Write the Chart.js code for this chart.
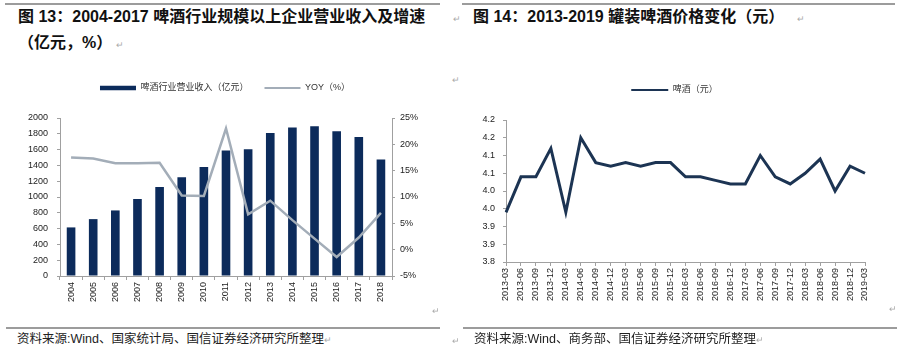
<!DOCTYPE html>
<html>
<head>
<meta charset="utf-8">
<script src="https://cdn.jsdelivr.net/npm/chart.js@4.4.1/dist/chart.umd.min.js"></script>
<style>
  body { margin: 0; width: 899px; height: 352px; background: #fff; position: relative; overflow: hidden;
         font-family: "Liberation Sans", "Noto Sans CJK SC", sans-serif; color: #111; }
  .rule { position: absolute; height: 2px; background: #9c9c9c; }
  .title { position: absolute; font-weight: bold; font-size: 16px; line-height: 18px; white-space: nowrap; color: #111; }
  .src { position: absolute; font-size: 12.5px; line-height: 16px; white-space: nowrap; color: #222; }
  .mark { position: absolute; font-size: 9px; line-height: 10px; color: #aaa; }
  canvas { position: absolute; }
</style>
</head>
<body>
<div class="rule" style="left:5px; top:3px; width:435px;"></div>
<div class="rule" style="left:462px; top:3px; width:433px;"></div>

<div class="title" style="left:18px; top:8px;">图 13：2004-2017 啤酒行业规模以上企业营业收入及增速</div>
<div class="title" style="left:18px; top:34px;">（亿元，%）</div>
<span class="mark" style="left:116px; top:40px;">↵</span>

<span class="mark" style="left:453px; top:14px;">↵</span>
<div class="title" style="left:473px; top:8px;">图 14：2013-2019 罐装啤酒价格变化（元）</div>
<span class="mark" style="left:797px; top:14px;">↵</span>
<span class="mark" style="left:452px; top:75px;">↵</span>

<canvas id="chartIngresos" width="450" height="252" style="left:0; top:66px;"></canvas>
<canvas id="chartPrecio" width="449" height="240" style="left:450px; top:66px;"></canvas>

<span class="mark" style="left:432px; top:306px;">↵</span>
<span class="mark" style="left:889px; top:304px;">↵</span>

<div class="rule" style="left:6px; top:327px; width:434px;"></div>
<div class="rule" style="left:463px; top:327px; width:434px;"></div>
<div class="src" style="left:17px; top:331px;">资料来源:Wind、国家统计局、国信证券经济研究所整理<span style="font-size:9px;color:#aaa;">↵</span></div>
<span class="mark" style="left:452px; top:336px;">↵</span>
<div class="src" style="left:474px; top:331px;">资料来源:Wind、商务部、国信证券经济研究所整理<span style="font-size:9px;color:#aaa;">↵</span></div>

<script>
// Datos
const years = ['2004', '2005', '2006', '2007', '2008', '2009', '2010', '2011',
               '2012', '2013', '2014', '2015', '2016', '2017', '2018'];
const revenue = [615, 720, 830, 975, 1127, 1250, 1381, 1589, 1606, 1809, 1881, 1894, 1831, 1758, 1475];
const yoy = [17.5, 17.3, 16.4, 16.4, 16.5, 10.3, 10.2, 23.0, 6.7, 9.3, 5.6, 2.1, -1.4, 2.3, 7.0];

const quarters = ['2013-03', '2013-06', '2013-09', '2013-12', '2014-03', '2014-06', '2014-09', '2014-12',
                  '2015-03', '2015-06', '2015-09', '2015-12', '2016-03', '2016-06', '2016-09', '2016-12',
                  '2017-03', '2017-06', '2017-09', '2017-12', '2018-03', '2018-06', '2018-09', '2018-12',
                  '2019-03'];
const price = [3.94, 4.04, 4.04, 4.12, 3.94, 4.15, 4.08, 4.07, 4.08, 4.07, 4.08, 4.08, 4.04,
               4.04, 4.03, 4.02, 4.02, 4.10, 4.04, 4.02, 4.05, 4.09, 4.00, 4.07, 4.05];
// Etiquetas del eje tal como aparecen (redondeadas a un decimal)
const priceTicks = ['3.8', '3.9', '3.9', '4.0', '4.0', '4.1', '4.1', '4.2', '4.2'];

const navy = '#0c2b5b';
const lineNavy = '#1c3453';
const gray = '#a3adb8';
const axisGray = '#a0a0a0';

Chart.defaults.font.family = "'Liberation Sans', 'Noto Sans CJK SC', sans-serif";
Chart.defaults.font.size = 9;
Chart.defaults.color = '#222';
Chart.defaults.animation = false;

/* Añade espacio extra debajo de la leyenda */
const legendGap = {
  id: 'legendGap',
  beforeLayout(chart, args, opts) {
    const lg = chart.legend;
    if (!lg || lg._gapDone) return;
    const fit = lg.fit;
    lg.fit = function () {
      fit.call(this);
      this.height += opts.extra || 0;
    };
    lg._gapDone = true;
  }
};

/* Leyenda con trazo de línea para cada serie */
function legendLabels(chart) {
  return chart.data.datasets.map((ds, i) => ({
    text: ds.label,
    datasetIndex: i,
    pointStyle: 'line',
    strokeStyle: ds.type === 'bar' ? ds.backgroundColor : ds.borderColor,
    fillStyle: ds.type === 'bar' ? ds.backgroundColor : ds.borderColor,
    lineWidth: ds.type === 'bar' ? 4.5 : 2,
    lineCap: 'butt',
    fontColor: '#333',
    hidden: false
  }));
}

const axisGrid = { display: true, drawOnChartArea: false, color: axisGray };

new Chart(document.getElementById('chartIngresos'), {
  type: 'bar',
  data: {
    labels: years,
    datasets: [
      { type: 'bar', label: '啤酒行业营业收入（亿元）', data: revenue, backgroundColor: navy,
        yAxisID: 'y', order: 1, barPercentage: 0.39, categoryPercentage: 1 },
      { type: 'line', label: 'YOY（%）', data: yoy, borderColor: gray, borderWidth: 2.5,
        pointRadius: 0, tension: 0, yAxisID: 'y1', order: 0 }
    ]
  },
  options: {
    responsive: false,
    layout: { padding: { top: 1.5 } },
    plugins: {
      legend: { labels: { usePointStyle: true, pointStyleWidth: 36, padding: 16, generateLabels: legendLabels } },
      legendGap: { extra: 15.5 },
      tooltip: { enabled: false }
    },
    scales: {
      x: {
        grid: { ...axisGrid, tickLength: 4 },
        border: { color: axisGray },
        ticks: { minRotation: 90, maxRotation: 90, autoSkip: false, padding: 2 },
        afterFit: s => { s.height = 42; }
      },
      y: {
        min: 0, max: 2000,
        grid: { ...axisGrid, tickLength: 3 },
        border: { color: axisGray },
        ticks: { stepSize: 200, padding: 9, callback: v => String(v) },
        afterFit: s => { s.width = 60; }
      },
      y1: {
        position: 'right', min: -5, max: 25,
        grid: { ...axisGrid, tickLength: 3 },
        border: { color: axisGray },
        ticks: { stepSize: 5, padding: 5, callback: v => v + '%' },
        afterFit: s => { s.width = 58; }
      }
    }
  },
  plugins: [legendGap]
});

new Chart(document.getElementById('chartPrecio'), {
  type: 'line',
  data: {
    labels: quarters,
    datasets: [
      { type: 'line', label: '啤酒（元）', data: price, borderColor: lineNavy, borderWidth: 3,
        pointRadius: 0, tension: 0 }
    ]
  },
  options: {
    responsive: false,
    layout: { padding: { top: 3.5 } },
    plugins: {
      legend: { labels: { usePointStyle: true, pointStyleWidth: 37, padding: 16, generateLabels: legendLabels } },
      legendGap: { extra: 15.5 },
      tooltip: { enabled: false }
    },
    scales: {
      x: {
        grid: { ...axisGrid, tickLength: 4 },
        border: { color: axisGray },
        ticks: { minRotation: 90, maxRotation: 90, autoSkip: false, padding: 2 },
        afterFit: s => { s.height = 44; }
      },
      y: {
        min: 3.8, max: 4.2,
        grid: { ...axisGrid, tickLength: 3 },
        border: { color: axisGray },
        ticks: { stepSize: 0.05, padding: 8, callback: (v, i) => priceTicks[i] },
        afterFit: s => { s.width = 56; }
      },
      yr: {
        type: 'linear', position: 'right', display: true,
        grid: { display: false }, border: { display: false }, ticks: { display: false },
        afterFit: s => { s.width = 34; }
      }
    }
  },
  plugins: [legendGap]
});
</script>
</body>
</html>
